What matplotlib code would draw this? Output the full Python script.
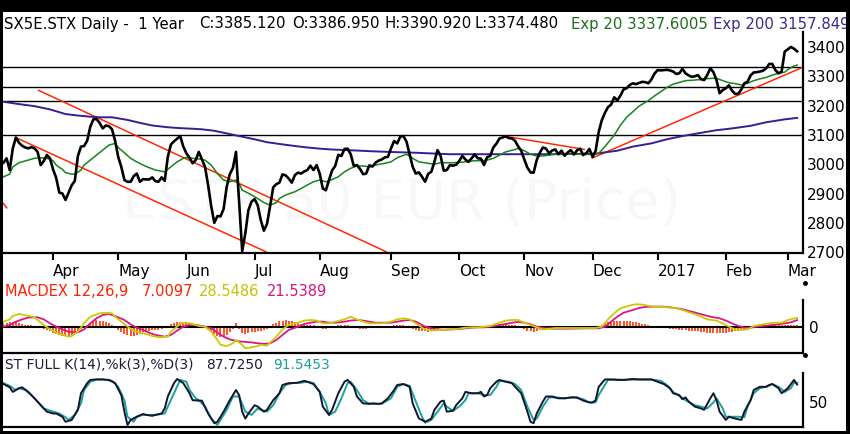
import matplotlib
matplotlib.use('Agg')
import matplotlib.pyplot as plt
import numpy as np
import pandas as pd
from matplotlib.patches import Rectangle
from matplotlib.lines import Line2D

# ---------------- data ----------------
holidays = ['2016-03-25', '2016-03-28', '2016-12-26']
first_day, last_day = '2016-03-08', '2017-03-06'

close = [
    3005, 3020, 2980, 3054, 3091, 3073, 3063, 3057, 3054, 3058,
    3054, 3042, 2997, 3011, 3031, 3020, 2982, 2953, 2903, 2900,
    2878, 2903, 2928, 2943, 3028, 3060, 3062, 3080, 3128, 3153,
    3154, 3141, 3122, 3132, 3130, 3119, 3080, 3025, 2991, 2946,
    2940, 2940, 2959, 2968, 2940, 2949, 2948, 2948, 2955, 2942,
    2940, 2955, 2943, 3025, 3067, 3078, 3087, 3096, 3060, 3037,
    3022, 3003, 3014, 3042, 3016, 2991, 2929, 2857, 2800, 2823,
    2822, 2847, 2923, 2966, 2987, 3042, 2872, 2703, 2764, 2843,
    2872, 2881, 2860, 2809, 2773, 2796, 2857, 2921, 2932, 2937,
    2965, 2962, 2951, 2937, 2963, 2971, 2968, 2975, 2980, 2995,
    2980, 2997, 2968, 2917, 2911, 2946, 2979, 2994, 3032, 3028,
    3052, 3053, 3034, 2994, 2997, 2984, 2966, 2968, 2996, 2992,
    3005, 3012, 3016, 3023, 3025, 3054, 3079, 3071, 3094, 3096,
    3077, 3034, 2991, 2968, 2972, 2957, 2940, 2967, 2974, 3008,
    3048, 3028, 2978, 2980, 2997, 2995, 2998, 3011, 3028, 3016,
    3008, 3020, 3033, 3020, 3019, 2997, 3024, 3028, 3057, 3070,
    3088, 3091, 3095, 3089, 3088, 3080, 3061, 3046, 3016, 2988,
    2972, 2971, 3014, 3039, 3057, 3053, 3037, 3047, 3050, 3034,
    3046, 3029, 3040, 3048, 3033, 3047, 3053, 3031, 3038, 3052,
    3025, 3045, 3110, 3150, 3175, 3195, 3203, 3228, 3218, 3234,
    3255, 3259, 3270, 3276, 3273, 3277, 3281, 3280, 3276, 3289,
    3309, 3321, 3320, 3321, 3322, 3320, 3316, 3308, 3310, 3325,
    3310, 3303, 3298, 3300, 3304, 3290, 3287, 3304, 3327, 3314,
    3287, 3242, 3253, 3259, 3269, 3251, 3240, 3240, 3255, 3276,
    3281, 3303, 3313, 3314, 3316, 3319, 3327, 3342, 3342, 3321,
    3310, 3316, 3384, 3392, 3400, 3394, 3385,
]

ema20_days = [0, 2, 3, 5, 8, 10, 12, 14, 16, 17,
              19, 20, 22, 23, 25, 26, 28, 30, 32, 34,
              36, 37, 39, 41, 43, 45, 47, 49, 52, 54,
              56, 58, 59, 61, 63, 65, 67, 69, 71, 73,
              75, 76, 77, 80, 82, 84, 86, 88, 89, 91,
              94, 96, 98, 100, 102, 104, 105, 108, 110, 112,
              114, 116, 118, 120, 123, 125, 127, 130, 132, 134,
              137, 139, 141, 143, 145, 147, 149, 152, 154, 156,
              158, 160, 162, 165, 166, 168, 170, 172, 174, 176,
              178, 183, 187, 190, 192, 194, 197, 199, 201, 203,
              205, 208, 210, 212, 214, 216, 218, 220, 223, 225,
              227, 229, 230, 232, 234, 237, 238, 240, 242, 244,
              246, 248, 250, 252, 253, 255, 256]
ema20_vals = [2957, 2966, 2991, 3005, 3014, 3020, 3022, 3020, 3012, 2997,
              2982, 2971, 2966, 2966, 2980, 2997, 3014, 3031, 3048, 3065,
              3071, 3057, 3039, 3020, 3008, 2997, 2988, 2980, 2974, 2991,
              3008, 3020, 3023, 3020, 3018, 3014, 2997, 2968, 2946, 2940,
              2946, 2934, 2912, 2895, 2883, 2869, 2860, 2869, 2883, 2895,
              2906, 2917, 2929, 2940, 2946, 2940, 2943, 2957, 2974, 2986,
              2994, 2994, 2991, 2997, 3003, 3008, 3022, 3034, 3020, 3008,
              3003, 3000, 3005, 3005, 3005, 3006, 3008, 3012, 3012, 3014,
              3020, 3031, 3042, 3050, 3054, 3046, 3034, 3028, 3028, 3031,
              3034, 3034, 3034, 3033, 3037, 3060, 3099, 3133, 3160, 3179,
              3198, 3217, 3233, 3247, 3262, 3273, 3279, 3285, 3287, 3289,
              3292, 3293, 3293, 3285, 3278, 3273, 3270, 3276, 3285, 3291,
              3296, 3304, 3310, 3314, 3323, 3335, 3338]

ema200_days = [0, 5, 10, 15, 20, 24, 28, 31, 35, 40,
               44, 48, 53, 57, 61, 64, 68, 72, 76, 81,
               85, 89, 94, 98, 102, 106, 111, 115, 119, 124,
               133, 144, 160, 176, 191, 198, 203, 209, 214, 219,
               225, 230, 235, 241, 246, 252, 256]
ema200_vals = [3213, 3205, 3198, 3187, 3171, 3166, 3162, 3160, 3160, 3151,
               3141, 3132, 3126, 3123, 3121, 3119, 3114, 3105, 3096, 3085,
               3075, 3069, 3062, 3057, 3053, 3050, 3048, 3046, 3044, 3042,
               3039, 3034, 3034, 3034, 3036, 3046, 3060, 3071, 3085, 3096,
               3107, 3116, 3122, 3131, 3143, 3153, 3158]

# trend lines: start day, start price, end day, end price
trend_x0 = [11.1, 3.7, -0.2, 161.5, 189.7]
trend_y0 = [3253, 3092, 2868, 3096, 3020]
trend_x1 = [123.7, 84.9, 1.2, 187.6, 257.9]
trend_y1 = [2700, 2700, 2849, 3050, 3331]

level_lines = [3332, 3262, 3214, 3099]
price_ticks = [2700, 2800, 2900, 3000, 3100, 3200, 3300, 3400]

macd_days = [0, 2, 3, 5, 7, 10, 11, 13, 15, 17,
             19, 21, 22, 24, 26, 28, 31, 33, 35, 36,
             38, 40, 42, 44, 46, 48, 50, 53, 54, 56,
             57, 59, 61, 63, 65, 67, 69, 70, 72, 74,
             75, 77, 78, 80, 82, 83, 85, 86, 88, 90,
             92, 95, 97, 99, 101, 103, 105, 107, 110, 112,
             114, 116, 118, 120, 122, 125, 127, 129, 131, 133,
             135, 136, 138, 140, 142, 145, 147, 149, 151, 153,
             155, 157, 160, 162, 164, 166, 168, 170, 172, 174,
             176, 178, 181, 184, 188, 191, 193, 195, 197, 199,
             202, 204, 206, 208, 210, 212, 214, 217, 219, 221,
             223, 225, 227, 230, 232, 234, 236, 238, 240, 242,
             245, 247, 249, 251, 253, 255, 256]
macd_vals = [16.5, 24, 35, 42, 38, 31, 22, 5.5, -9, -20,
             -27, -33, -31, -16.5, 11, 33, 44, 46, 44, 33,
             16.5, 0, -13, -20, -24, -31, -35, -33, -16.5, 0,
             11, 13, 9, 2, 0, -16.5, -44, -60, -64, -55,
             -44, -60, -71.5, -68, -64, -60, -63, -53, -33, -9,
             5.5, 13, 20, 22, 20, 11, 11, 16.5, 24, 33,
             24, 16.5, 11, 11, 11, 16.5, 24, 27.5, 24, 11,
             -3, -9, -13, -11, -11, -9, -6.6, -3.3, -2.2, -2.2,
             0, 2.2, 13, 20, 22, 22, 13, 5.5, -2.2, -9,
             -6.6, -4.4, -4.4, -4.4, -4.4, -4.4, 0, 24, 44, 60.5,
             70, 74, 73, 69, 66, 66, 64, 60.5, 55, 48,
             41, 33, 24, 20, 11, 0, -9, -11, -9, 2.2,
             7.7, 11, 13, 13, 22, 27, 28.5]

signal_days = [0, 2, 4, 6, 8, 11, 13, 15, 17, 19,
               21, 24, 26, 28, 30, 32, 34, 36, 39, 41,
               43, 45, 47, 49, 52, 54, 56, 58, 60, 62,
               64, 67, 69, 71, 73, 75, 77, 80, 82, 84,
               86, 88, 90, 92, 95, 97, 99, 101, 103, 105,
               107, 110, 112, 114, 116, 118, 120, 122, 125, 127,
               129, 131, 133, 135, 136, 138, 140, 142, 145, 147,
               149, 151, 153, 155, 157, 160, 162, 164, 166, 168,
               170, 172, 175, 177, 182, 189, 192, 194, 196, 198,
               200, 203, 205, 207, 209, 213, 215, 218, 220, 222,
               224, 226, 228, 231, 233, 235, 237, 239, 241, 243,
               246, 248, 250, 252, 254, 256]
signal_vals = [0, 5.5, 16.5, 24, 30, 31, 24, 11, 0, -9,
               -16.5, -19, -9, 11, 27.5, 38.5, 42, 35, 22, 7.7,
               -3.3, -11, -20, -27.5, -33, -27.5, -13, 0, 5.5, 5.5,
               2.2, -5.5, -20, -33, -42, -47, -49.5, -52, -55, -57,
               -55, -44, -27.5, -11, 0, 8.8, 13, 16.5, 16.5, 13,
               13, 16.5, 20, 22, 20, 16.5, 13, 13, 13, 16.5,
               20, 22, 16.5, 5.5, 0, -5.5, -9, -10, -9, -7.7,
               -5.5, -3.3, -2.2, -2.2, 0, 5.5, 8.8, 13, 15.4, 13,
               7.7, 0, -5.5, -6.6, -6.6, -5.5, -5.5, 0, 16.5, 33,
               46, 55, 61.6, 65, 66, 66, 64, 59.4, 55, 49.5,
               44, 38.5, 33, 27.5, 20, 11, 2.2, -3.3, -3.3, 0,
               3.3, 5.5, 7.7, 11, 14.3, 21.5]

macd_hist = [
    11, 13, 15, 17, 15, 12, 9, 7, 6, 4,
    3, 1, -2, -7, -11, -15, -20, -24, -28, -30,
    -32, -31, -26, -21, -13, -7, -2, 6, 13, 18,
    21, 20, 18, 14, 11, 6, -3, -11, -18, -23,
    -28, -31, -30, -28, -23, -19, -15, -13, -12, -11,
    -10, -7, -3, 3, 9, 13, 15, 17, 14, 11,
    8, 6, 3, 2, 0, -4, -11, -18, -24, -30,
    -33, -31, -26, -19, -9, 11, -9, -22, -24, -22,
    -19, -17, -15, -14, -12, -7, 0, 9, 13, 18,
    20, 21, 20, 18, 15, 12, 10, 8, 7, 6,
    4, 2, -2, -7, -8, -6, -2, 1, 4, 6,
    7, 6, 2, -2, -4, -7, -8, -7, -4, -2,
    0, 1, 2, 2, 2, 3, 4, 6, 6, 4,
    1, -3, -8, -11, -13, -15,
    -16, -18, -16, -13, -9, -4, -2, -3, -3, -2,
    -2, -1, 0, 0, 1, 1, 2, 2, 2, 2,
    3, 4, 5, 7, 8, 8, 8, 7, 5, 4,
    2, -2, -8, -13, -16, -18, -15, -11, -7, -3,
    -1, 0, 0, -1, -1, -1, -1, -1, -1, 0,
    0, 0, -1, -1, -2, -2, 2, 7, 11, 14,
    16, 18, 19, 20, 20, 19, 18, 16, 14, 12,
    10, 8, 5, 3, 1, 0, -2, -4, -5, -7,
    -8, -9, -10, -11, -12, -13, -14, -15, -16, -18,
    -19, -20, -20, -20, -21, -21, -21, -20, -19, -18,
    -15, -13, -10, -7, -3, 0, 2, 3, 4, 4,
    4, 4, 4, 4, 4, 4, 4, 6, 7, 7,
    7,
]

stk_days = [0, 2, 3, 5, 6, 8, 10, 12, 14, 16,
            17, 19, 20, 22, 24, 25, 27, 28, 30, 32,
            34, 36, 38, 39, 40, 41, 43, 45, 46, 48,
            49, 51, 52, 53, 55, 56, 58, 60, 61, 63,
            64, 66, 68, 69, 71, 73, 75, 76, 77, 78,
            79, 81, 82, 84, 85, 87, 89, 90, 92, 93,
            95, 97, 98, 100, 102, 103, 105, 106, 108, 110,
            111, 113, 114, 116, 118, 119, 121, 122, 124, 126,
            127, 129, 131, 132, 134, 135,
            136, 138, 139, 141, 142, 143, 145, 146, 148, 149,
            151, 153, 154, 155, 156, 157, 159, 160, 162, 164,
            165, 167, 169, 170, 171, 172, 174, 175, 177, 179,
            181, 183, 185, 187, 189, 190, 191, 192, 194, 196,
            198, 200, 203, 205, 207, 209, 211, 213, 215, 216,
            218, 219, 220, 221, 223, 225, 226, 228, 229, 230,
            231, 233, 234, 236, 238, 239, 241, 242, 244, 246,
            247, 248, 250, 251, 253, 255, 256]
stk_vals = [89, 82, 72, 80, 82, 72, 58, 43, 29, 25,
            25, 18, 7, 11, 33, 69, 91, 98, 99, 99,
            98, 91, 65, 29, 0, 11, 18, 24, 22, 20,
            22, 25, 36, 62, 91, 100, 91, 69, 54, 53,
            53, 25, 4, 7, 29, 54, 76, 65, 29, 14,
            25, 43, 40, 29, 33, 54, 69, 87, 91, 91,
            92, 96, 94, 89, 72, 40, 22, 33, 69, 94,
            98, 83, 62, 47, 46, 47, 46, 47, 58, 76,
            87, 89, 83, 47, 14, 11,
            7, 14, 33, 51, 53, 29, 31, 43, 58, 72,
            69, 69, 72, 62, 65, 80, 94, 98, 94, 91,
            83, 69, 29, 7, 4, 25, 51, 62, 62, 58,
            58, 60, 60, 53, 49, 49, 54, 83, 99, 99,
            98, 98, 100, 99, 99, 99, 94, 89, 80, 69,
            65, 56, 60, 51, 40, 36, 33, 58, 69, 54,
            29, 11, 18, 14, 11, 29, 54, 76, 83, 83,
            87, 89, 80, 69, 80, 98, 88]

std_days = [0, 2, 4, 5, 7, 9, 11, 13, 16, 18,
            20, 21, 23, 25, 26, 28, 30, 32, 35, 37,
            39, 40, 42, 43, 45, 47, 49, 52, 53, 55,
            57, 59, 60, 62, 63, 65, 67, 69, 70, 72,
            74, 76, 78, 80, 82, 83, 85, 87, 89, 91,
            93, 96, 98, 100, 102, 104, 105, 107, 109, 111,
            112, 114, 116, 118, 120, 122, 125, 127, 129, 131,
            133, 135,
            136, 138, 140, 142, 143, 145, 147, 149, 150, 153,
            155, 157, 159, 160, 163, 165, 167, 169, 171, 172,
            174, 176, 178, 181, 184, 187, 189, 191, 192, 195,
            197, 200, 205, 209, 212, 214, 216, 218, 220, 223,
            225, 227, 229, 230, 232, 233, 235, 237, 239, 240,
            242, 244, 246, 248, 250, 252, 254, 255, 256]
std_vals = [91, 85, 76, 80, 76, 65, 51, 36, 29, 25,
            17, 11, 22, 47, 76, 94, 99, 99, 96, 83,
            54, 18, 7, 18, 22, 22, 22, 25, 40, 69,
            98, 94, 76, 58, 54, 40, 14, 0, 11, 33,
            62, 62, 29, 22, 36, 33, 29, 43, 69, 87,
            91, 92, 94, 91, 72, 47, 22, 29, 58, 91,
            94, 76, 54, 46, 46, 46, 58, 83, 89, 85,
            51, 18,
            5, 11, 29, 47, 40, 31, 40, 54, 69, 69,
            65, 65, 83, 96, 94, 89, 76, 40, 11, 14,
            40, 60, 60, 58, 60, 56, 49, 49, 65, 98,
            99, 98, 99, 99, 96, 87, 72, 63, 54, 43,
            40, 36, 49, 58, 36, 18, 18, 18, 17, 40,
            69, 80, 83, 89, 83, 72, 80, 92, 91.5]

header_parts = [
    (4, 'SX5E.STX Daily -  1 Year', 'black'),
    (199, 'C:3385.120', 'black'),
    (292, 'O:3386.950', 'black'),
    (385, 'H:3390.920', 'black'),
    (475, 'L:3374.480', 'black'),
    (571, 'Exp 20 3337.6005', '#1d6e1d'),
    (713, 'Exp 200 3157.849', '#3a2a8a'),
]
macd_parts = [
    (5, 'MACDEX 12,26,9', '#ff2200'),
    (142, '7.0097', '#ff2200'),
    (199, '28.5486', '#c3c300'),
    (267, '21.5389', '#d5167f'),
]
st_parts = [
    (5, 'ST FULL K(14),%k(3),%D(3)', '#1c1c3c'),
    (206, '87.7250', '#1c1c3c'),
    (273, '91.5453', '#1a9e98'),
]

# ---------------- figure ----------------
plt.rcParams['font.family'] = ['DejaVu Sans']
W, H = 850, 434
fig = plt.figure(figsize=(W / 100, H / 100), dpi=100, facecolor='black')
fig.patches.append(Rectangle((3 / W, 1 - 431 / H), (846 - 3) / W, (431 - 12) / H,
                             transform=fig.transFigure, facecolor='white',
                             edgecolor='none', zorder=-5))


def px_axes(left, top, right, bottom):
    ax = fig.add_axes([left / W, 1 - bottom / H, (right - left) / W, (bottom - top) / H])
    ax.set_facecolor('none')
    for s in ['left', 'top']:
        ax.spines[s].set_visible(False)
    for s in ['right', 'bottom']:
        ax.spines[s].set_linewidth(1.6)
        ax.spines[s].set_color('black')
    ax.yaxis.tick_right()
    return ax


def ftext(x, y, s, color, size):
    fig.text(x / W, 1 - y / H, s, color=color, fontsize=size, ha='left', va='center')


dates = pd.bdate_range(first_day, last_day)
dates = dates[~dates.isin(pd.to_datetime(holidays))]
n = len(dates)
days = np.arange(len(close))
months = dates.to_period('M')
tick_idx = [i for i in range(1, n) if months[i] != months[i - 1]]
tick_lab = ['2017' if dates[i].month == 1 and dates[i].year == 2017 else dates[i].strftime('%b')
            for i in tick_idx]

XL = (-0.16, 257.9)

# main panel
ax = px_axes(3, 32, 803, 253)
ax.set_xlim(*XL)
ax.set_ylim(2697, 3451)
ax.text(402 / W, 1 - 218 / H, 'ESTX 50 EUR (Price)', transform=fig.transFigure,
        fontsize=40, color='#f8f8f8', ha='center', va='baseline', zorder=0)
for lv in level_lines:
    ax.axhline(lv, color='black', lw=1.0, zorder=1)
for a, b, c, d in zip(trend_x0, trend_y0, trend_x1, trend_y1):
    ax.plot([a, c], [b, d], color='#ff2a00', lw=1.1, zorder=2, solid_capstyle='butt')
ax.plot(ema200_days, ema200_vals, color='#3a1c95', lw=1.4, zorder=3)
ax.plot(ema20_days, ema20_vals, color='#16841a', lw=1.1, zorder=4)
ax.plot(days, close, color='black', lw=1.9, zorder=5, solid_joinstyle='round')
ax.set_xticks(tick_idx)
ax.set_xticklabels(tick_lab)
for lab in ax.get_xticklabels():
    lab.set_ha('left')
ax.tick_params(axis='x', direction='out', length=5, width=1.5, pad=3, labelsize=11)
ax.set_yticks(price_ticks)
ax.tick_params(axis='y', length=0, pad=3, labelsize=11)

# MACD panel
am = px_axes(3, 300, 803, 353)
am.set_xlim(*XL)
am.set_ylim(-87, 88)
am.axhline(0, color='black', lw=1.5, zorder=2)
am.vlines(np.arange(len(macd_hist)), 0, macd_hist, color='#ff3a0c', lw=1.25, zorder=1)
am.plot(signal_days, signal_vals, color='#dc1488', lw=1.3, zorder=3)
am.plot(macd_days, macd_vals, color='#c8cc00', lw=1.3, zorder=4)
am.set_xticks([])
am.set_yticks([0])
am.set_yticklabels(['0'])
am.tick_params(axis='y', length=0, pad=4, labelsize=11)

# Stochastic panel
ast = px_axes(3, 373, 803, 427)
ast.set_xlim(*XL)
ast.set_ylim(-4.3, 113)
ast.plot(std_days, std_vals, color='#1aa39a', lw=1.4, zorder=3)
ast.plot(stk_days, stk_vals, color='#141430', lw=1.4, zorder=4)
ast.set_xticks([])
ast.set_yticks([50])
ast.set_yticklabels(['50'])
ast.tick_params(axis='y', length=0, pad=4, labelsize=11)

# small axis-end dots
for yy in (283, 355):
    fig.add_artist(Line2D([805 / W], [1 - yy / H], marker='o', ms=2.5, color='black',
                          transform=fig.transFigure))

# titles
for x, s, c in header_parts:
    ftext(x, 24, s, c, 10.7)
for x, s, c in macd_parts:
    ftext(x, 292, s, c, 10.5)
for x, s, c in st_parts:
    ftext(x, 365, s, c, 9.9)

# right border on top to clip header
fig.add_artist(Rectangle((846 / W, 0), 4 / W, 1, transform=fig.transFigure,
                         facecolor='black', edgecolor='none', zorder=20))

fig.savefig('out.png', dpi=100, facecolor='black')
